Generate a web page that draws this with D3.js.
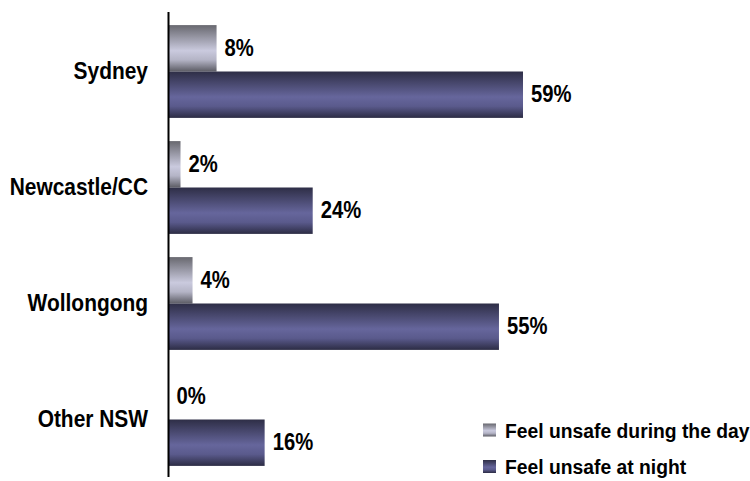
<!DOCTYPE html>
<html><head><meta charset="utf-8">
<script src="https://cdn.jsdelivr.net/npm/d3@7"></script>
<style>body{margin:0;background:#fff}svg{display:block}text{font-family:"Liberation Sans",Arial,sans-serif;font-weight:bold;fill:#000}</style>
</head><body><svg id="c" width="750" height="481"></svg>
<script>
const categories = ["Sydney", "Newcastle/CC", "Wollongong", "Other NSW"];
const seriesNames = ["Feel unsafe during the day", "Feel unsafe at night"];
const dayValues = [8, 2, 4, 0];
const nightValues = [59, 24, 55, 16];

const svg = d3.select("#c");
const defs = svg.append("defs");
function grad(id, stops){
  const g = defs.append("linearGradient").attr("id", id).attr("x1",0).attr("y1",0).attr("x2",0).attr("y2",1);
  stops.forEach(s => g.append("stop").attr("offset", s[0]).attr("stop-color", s[1]));
}
grad("gDay", [[0,"#68686f"],[0.55,"#cacade"],[0.75,"#b4b4c6"],[1,"#5c5c64"]]);
grad("gNight", [[0,"#2e2e46"],[0.55,"#66669c"],[0.75,"#5a5a8c"],[1,"#2c2c44"]]);

const x0 = 168.5;
const x = d3.scaleLinear().domain([0, 59]).range([x0, 523]);
const y = d3.scaleBand().domain(categories).range([13.5, 477.5]).paddingInner(0.2).paddingOuter(0.1);
const sub = d3.scaleBand().domain(seriesNames).range([0, y.bandwidth()]);

const rows = categories.map((c,i)=>({c, vals:[dayValues[i], nightValues[i]]}));
const fills = ["url(#gDay)", "url(#gNight)"];

function label(parent, tx, ty, str, size, sx, anchor){
  return parent.append("text")
    .attr("transform", `translate(${tx},${ty}) scale(${sx},1)`)
    .attr("dy","0.36em").attr("font-size", size)
    .attr("text-anchor", anchor || "start").text(str);
}

const g = svg.append("g");
rows.forEach(r => {
  r.vals.forEach((v, j) => {
    const yy = y(r.c) + sub(seriesNames[j]);
    g.append("rect").attr("x", x(0)).attr("y", yy).attr("width", x(v)-x(0)).attr("height", sub.bandwidth()).attr("fill", fills[j]);
    label(g, x(v) + 8, yy + sub.bandwidth()/2 - 1, v + "%", 23, 0.88);
  });
  label(g, 148, y(r.c) + y.bandwidth()/2 - 1, r.c, 23, 0.91, "end");
});

svg.append("line").attr("x1", x0).attr("x2", x0).attr("y1", 12).attr("y2", 477).attr("stroke","#000").attr("stroke-width",2);

const leg = svg.append("g");
const legY = [430, 466.5];
seriesNames.forEach((n, j) => {
  leg.append("rect").attr("x", 483).attr("y", legY[j]-6.5).attr("width", 13).attr("height", 13).attr("fill", fills[j]);
  label(leg, 505, legY[j], n, 21, 0.92);
});
</script></body></html>
